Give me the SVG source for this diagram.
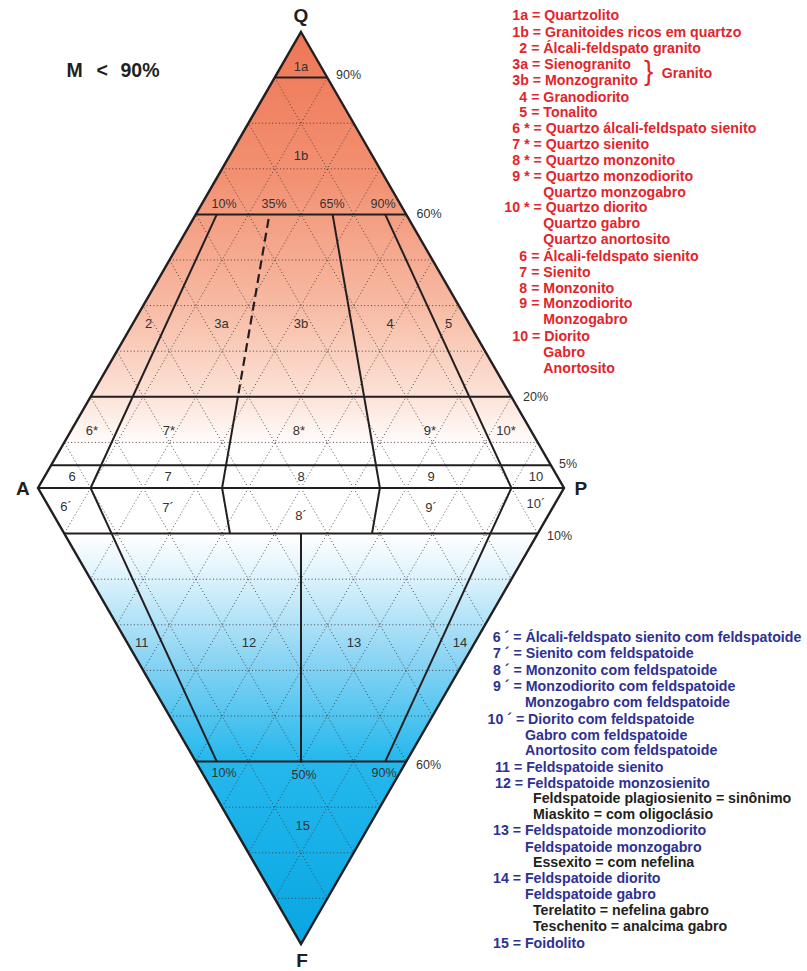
<svg xmlns="http://www.w3.org/2000/svg" width="807" height="971" viewBox="0 0 807 971">
  <style>
    .edge { fill: none; stroke: #231f20; stroke-width: 2.4; stroke-linejoin: miter; }
    .solid { fill: none; stroke: #231f20; stroke-width: 2; stroke-linecap: butt; }
    .dash { fill: none; stroke: #231f20; stroke-width: 2.2; stroke-dasharray: 9 5; }
    .grid { fill: none; stroke: #3c3c3c; stroke-width: 0.9; stroke-dasharray: 1 2.4; }
    .vtx { font-family: "Liberation Sans", Arial, sans-serif; font-weight: bold; font-size: 19px; fill: #231f20; }
    .big { font-family: "Liberation Sans", Arial, sans-serif; font-weight: bold; font-size: 19.5px; fill: #231f20; }
    .pct { font-family: "Liberation Sans", Arial, sans-serif; font-size: 12.5px; fill: #333; }
    .fld { font-family: "Liberation Sans", Arial, sans-serif; font-size: 13px; fill: #333; text-anchor: middle; }
    .leg { font-family: "Liberation Sans", Arial, sans-serif; font-weight: bold; font-size: 14.2px; }
    .red { fill: #e2252c; }
    .blue { fill: #2e3192; }
    .blk { fill: #231f20; }
    .mid { text-anchor: middle; }
  </style>
  <defs>
    <linearGradient id="gradQ" gradientUnits="userSpaceOnUse" x1="0" y1="32" x2="0" y2="448">
      <stop offset="0" stop-color="#ee7656"/>
      <stop offset="0.35" stop-color="#f29172"/>
      <stop offset="0.65" stop-color="#f7b9a2"/>
      <stop offset="0.88" stop-color="#fce3d8"/>
      <stop offset="1" stop-color="#ffffff"/>
    </linearGradient>
    <linearGradient id="gradF" gradientUnits="userSpaceOnUse" x1="0" y1="534" x2="0" y2="944">
      <stop offset="0" stop-color="#ffffff"/>
      <stop offset="0.1" stop-color="#dff3fc"/>
      <stop offset="0.3" stop-color="#8dd5f4"/>
      <stop offset="0.55" stop-color="#25b8ed"/>
      <stop offset="1" stop-color="#08a6e2"/>
    </linearGradient>
  </defs>

  <rect width="807" height="971" fill="#ffffff"/>

  <!-- QAP and FAP triangles -->
  <g id="fills">
    <polygon points="301,32 564,488 38,488" fill="url(#gradQ)"/>
    <polygon points="38,488 564,488 301,944" fill="url(#gradF)"/>
  </g>

  <!-- 10 % reference grid -->
  <g id="grid" class="grid">
    <!-- upper: constant P -->
    <line x1="90.6" y1="488" x2="327.3" y2="77.6"/>
    <line x1="143.2" y1="488" x2="353.6" y2="123.2"/>
    <line x1="195.8" y1="488" x2="379.9" y2="168.8"/>
    <line x1="248.4" y1="488" x2="406.2" y2="214.4"/>
    <line x1="301" y1="488" x2="432.5" y2="260"/>
    <line x1="353.6" y1="488" x2="458.8" y2="305.6"/>
    <line x1="406.2" y1="488" x2="485.1" y2="351.2"/>
    <line x1="458.8" y1="488" x2="511.4" y2="396.8"/>
    <line x1="511.4" y1="488" x2="537.7" y2="442.4"/>
    <!-- upper: constant A -->
    <line x1="511.4" y1="488" x2="274.7" y2="77.6"/>
    <line x1="458.8" y1="488" x2="248.4" y2="123.2"/>
    <line x1="406.2" y1="488" x2="222.1" y2="168.8"/>
    <line x1="353.6" y1="488" x2="195.8" y2="214.4"/>
    <line x1="301" y1="488" x2="169.5" y2="260"/>
    <line x1="248.4" y1="488" x2="143.2" y2="305.6"/>
    <line x1="195.8" y1="488" x2="116.9" y2="351.2"/>
    <line x1="143.2" y1="488" x2="90.6" y2="396.8"/>
    <line x1="90.6" y1="488" x2="64.3" y2="442.4"/>
    <!-- upper: constant Q -->
    <line x1="248.4" y1="123.2" x2="353.6" y2="123.2"/>
    <line x1="222.1" y1="168.8" x2="379.9" y2="168.8"/>
    <line x1="169.5" y1="260" x2="432.5" y2="260"/>
    <line x1="143.2" y1="305.6" x2="458.8" y2="305.6"/>
    <line x1="116.9" y1="351.2" x2="485.1" y2="351.2"/>
    <line x1="64.3" y1="442.4" x2="537.7" y2="442.4"/>
    <!-- lower: constant P -->
    <line x1="90.6" y1="488" x2="327.3" y2="898.4"/>
    <line x1="143.2" y1="488" x2="353.6" y2="852.8"/>
    <line x1="195.8" y1="488" x2="379.9" y2="807.2"/>
    <line x1="248.4" y1="488" x2="406.2" y2="761.6"/>
    <line x1="301" y1="488" x2="432.5" y2="716"/>
    <line x1="353.6" y1="488" x2="458.8" y2="670.4"/>
    <line x1="406.2" y1="488" x2="485.1" y2="624.8"/>
    <line x1="458.8" y1="488" x2="511.4" y2="579.2"/>
    <line x1="511.4" y1="488" x2="537.7" y2="533.6"/>
    <!-- lower: constant A -->
    <line x1="511.4" y1="488" x2="274.7" y2="898.4"/>
    <line x1="458.8" y1="488" x2="248.4" y2="852.8"/>
    <line x1="406.2" y1="488" x2="222.1" y2="807.2"/>
    <line x1="353.6" y1="488" x2="195.8" y2="761.6"/>
    <line x1="301" y1="488" x2="169.5" y2="716"/>
    <line x1="248.4" y1="488" x2="143.2" y2="670.4"/>
    <line x1="195.8" y1="488" x2="116.9" y2="624.8"/>
    <line x1="143.2" y1="488" x2="90.6" y2="579.2"/>
    <line x1="90.6" y1="488" x2="64.3" y2="533.6"/>
    <!-- lower: constant F -->
    <line x1="90.6" y1="579.2" x2="511.4" y2="579.2"/>
    <line x1="116.9" y1="624.8" x2="485.1" y2="624.8"/>
    <line x1="143.2" y1="670.4" x2="458.8" y2="670.4"/>
    <line x1="169.5" y1="716" x2="432.5" y2="716"/>
    <line x1="222.1" y1="807.2" x2="379.9" y2="807.2"/>
    <line x1="248.4" y1="852.8" x2="353.6" y2="852.8"/>
    <line x1="274.7" y1="898.4" x2="327.3" y2="898.4"/>
  </g>

  <!-- field boundaries -->
  <g id="boundaries">
    <g class="solid">
      <line x1="274.7" y1="77.6" x2="327.3" y2="77.6"/>
      <line x1="195.8" y1="214.4" x2="406.2" y2="214.4"/>
      <line x1="90.6" y1="396.8" x2="511.4" y2="396.8"/>
      <line x1="51.2" y1="465.2" x2="550.9" y2="465.2"/>
      <line x1="38" y1="488" x2="564" y2="488"/>
      <line x1="64.3" y1="533.6" x2="537.7" y2="533.6"/>
      <line x1="195.8" y1="761.6" x2="406.2" y2="761.6"/>
      <!-- P/(A+P) = 10, 35, 65, 90 % -->
      <line x1="216.8" y1="214.4" x2="90.6" y2="488"/>
      <line x1="237.9" y1="396.8" x2="222.1" y2="488"/>
      <line x1="332.6" y1="214.4" x2="379.9" y2="488"/>
      <line x1="385.2" y1="214.4" x2="511.4" y2="488"/>
      <line x1="90.6" y1="488" x2="216.8" y2="761.6"/>
      <line x1="222.1" y1="488" x2="230" y2="533.6"/>
      <line x1="379.9" y1="488" x2="372" y2="533.6"/>
      <line x1="301" y1="533.6" x2="301" y2="761.6"/>
      <line x1="511.4" y1="488" x2="385.2" y2="761.6"/>
    </g>
    <line class="dash" x1="268.6" y1="219" x2="237.9" y2="396.8"/>
    <polygon class="edge" points="301,32 564,488 301,944 38,488"/>
  </g>

  <!-- apices -->
  <g id="apices" class="vtx">
    <text x="301" y="22" text-anchor="middle">Q</text>
    <text x="16" y="494.5">A</text>
    <text x="574.5" y="494.5">P</text>
    <text x="302" y="967" text-anchor="middle">F</text>
  </g>

  <text class="big" y="76.7"><tspan x="66.5">M</tspan><tspan x="96.5">&lt;</tspan><tspan x="120.5">90%</tspan></text>

  <!-- percentage marks -->
  <g id="percent" class="pct">
    <text x="336" y="78.5">90%</text>
    <text x="416.5" y="218">60%</text>
    <text x="224" y="208" class="mid">10%</text>
    <text x="274" y="208" class="mid">35%</text>
    <text x="332" y="208" class="mid">65%</text>
    <text x="383" y="208" class="mid">90%</text>
    <text x="523" y="401">20%</text>
    <text x="559" y="468">5%</text>
    <text x="547" y="540">10%</text>
    <text x="416" y="769">60%</text>
    <text x="224" y="777" class="mid">10%</text>
    <text x="304" y="779" class="mid">50%</text>
    <text x="384" y="777" class="mid">90%</text>
  </g>

  <!-- field numbers -->
  <g id="fields" class="fld">
    <text x="301" y="70.5">1a</text>
    <text x="301" y="159.5">1b</text>
    <text x="148.5" y="327.5">2</text>
    <text x="221.5" y="327.5">3a</text>
    <text x="301" y="327.5">3b</text>
    <text x="390" y="327.5">4</text>
    <text x="448.5" y="327.5">5</text>
    <text x="92" y="434.5">6*</text>
    <text x="169" y="434.5">7*</text>
    <text x="299" y="434.5">8*</text>
    <text x="430" y="434.5">9*</text>
    <text x="506" y="434.5">10*</text>
    <text x="72" y="480.5">6</text>
    <text x="168" y="480.5">7</text>
    <text x="301" y="480.5">8</text>
    <text x="431" y="480.5">9</text>
    <text x="536" y="480.5">10</text>
    <text x="66" y="510.5">6´</text>
    <text x="168" y="511.5">7´</text>
    <text x="301" y="519.5">8´</text>
    <text x="431" y="511.5">9´</text>
    <text x="536" y="507.5">10´</text>
    <text x="141.7" y="646.5">11</text>
    <text x="249" y="646.5">12</text>
    <text x="354" y="646.5">13</text>
    <text x="460" y="646.5">14</text>
    <text x="302.7" y="829.5">15</text>
  </g>

  <!-- rock names with quartz and without foids -->
  <g id="legend-q" class="leg red">
    <text x="512.3" y="20">1a = Quartzolito</text>
    <text x="512.3" y="37">1b = Granitoides ricos em quartzo</text>
    <text x="519.3" y="53">2 = Álcali-feldspato granito</text>
    <text x="512.3" y="69">3a = Sienogranito</text>
    <text x="512.3" y="85">3b = Monzogranito</text>
    <text x="519.3" y="102">4 = Granodiorito</text>
    <text x="519.3" y="117">5 = Tonalito</text>
    <text x="512.3" y="133">6 * = Quartzo álcali-feldspato sienito</text>
    <text x="512.3" y="149">7 * = Quartzo sienito</text>
    <text x="512.3" y="165">8 * = Quartzo monzonito</text>
    <text x="512.3" y="181">9 * = Quartzo monzodiorito</text>
    <text x="543.3" y="197">Quartzo monzogabro</text>
    <text x="504.3" y="212">10 * = Quartzo diorito</text>
    <text x="543.3" y="228">Quartzo gabro</text>
    <text x="543.3" y="244">Quartzo anortosito</text>
    <text x="519.3" y="261">6 = Álcali-feldspato sienito</text>
    <text x="519.3" y="277">7 = Sienito</text>
    <text x="519.3" y="293">8 = Monzonito</text>
    <text x="519.3" y="308">9 = Monzodiorito</text>
    <text x="543.3" y="324">Monzogabro</text>
    <text x="512.3" y="341">10 = Diorito</text>
    <text x="543.3" y="357">Gabro</text>
    <text x="543.3" y="373">Anortosito</text>
    <text x="644" y="80" style="font-weight:normal;font-size:28px">}</text>
    <text x="661.7" y="77.7">Granito</text>
  </g>

  <!-- rock names with foids -->
  <g id="legend-f" class="leg">
    <text x="492.7" y="642" class="blue">6 ´ = Álcali-feldspato sienito com feldspatoide</text>
    <text x="493" y="658" class="blue">7 ´ = Sienito com feldspatoide</text>
    <text x="493" y="675" class="blue">8 ´ = Monzonito com feldspatoide</text>
    <text x="493" y="691" class="blue">9 ´ = Monzodiorito com feldspatoide</text>
    <text x="525" y="707" class="blue">Monzogabro com feldspatoide</text>
    <text x="487.5" y="724" class="blue">10 ´ = Diorito com feldspatoide</text>
    <text x="525" y="740" class="blue">Gabro com feldspatoide</text>
    <text x="525" y="755" class="blue">Anortosito com feldspatoide</text>
    <text x="495" y="772" class="blue">11 = Feldspatoide sienito</text>
    <text x="495" y="788" class="blue">12 = Feldspatoide monzosienito</text>
    <text x="533" y="803" class="blk">Feldspatoide plagiosienito = sinônimo</text>
    <text x="533" y="819" class="blk">Miaskito = com oligoclásio</text>
    <text x="493" y="835" class="blue">13 = Feldspatoide monzodiorito</text>
    <text x="525" y="852" class="blue">Feldspatoide monzogabro</text>
    <text x="533" y="867" class="blk">Essexito = com nefelina</text>
    <text x="493" y="883" class="blue">14 = Feldspatoide diorito</text>
    <text x="525" y="899" class="blue">Feldspatoide gabro</text>
    <text x="533" y="915" class="blk">Terelatito = nefelina gabro</text>
    <text x="533" y="931" class="blk">Teschenito = analcima gabro</text>
    <text x="493" y="948" class="blue">15 = Foidolito</text>
  </g>
</svg>
